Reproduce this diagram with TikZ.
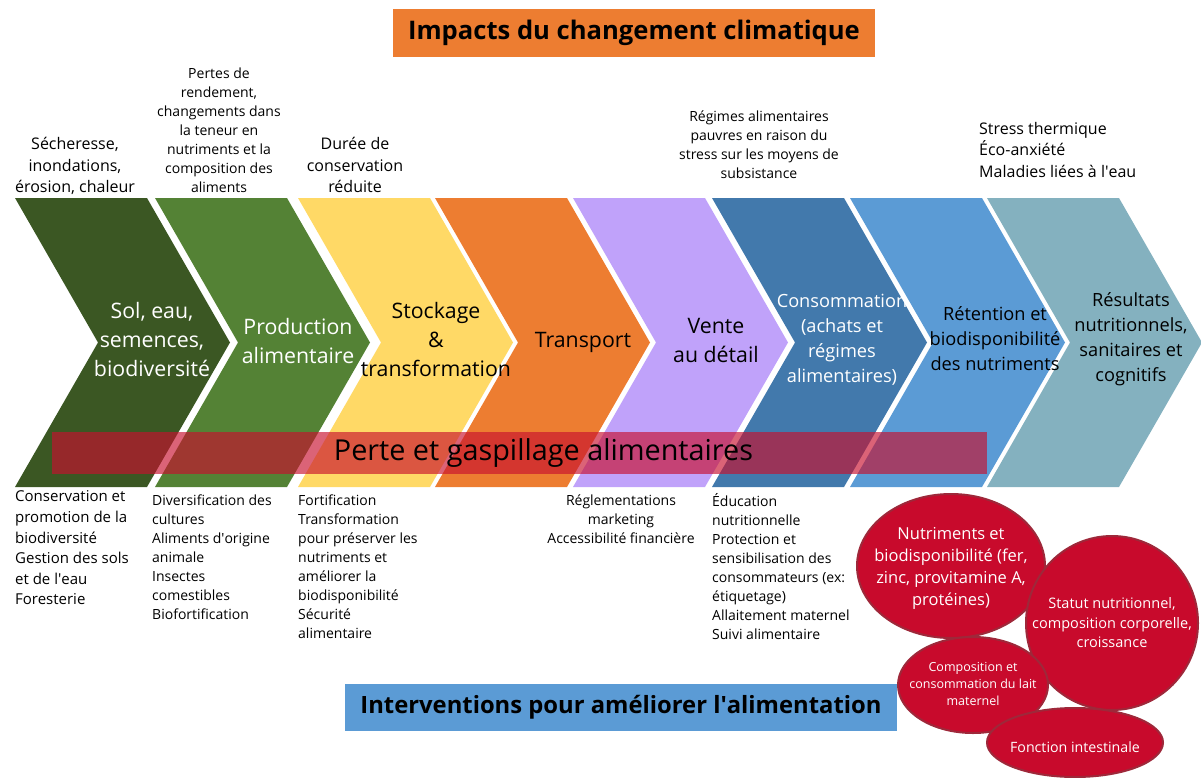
\documentclass[tikz,border=0pt]{standalone}
\usepackage{fontspec}
\setmainfont{Open Sans}
\definecolor{soil}{RGB}{59,87,35}
\definecolor{prod}{RGB}{84,130,53}
\definecolor{stock}{RGB}{255,217,102}
\definecolor{transp}{RGB}{237,125,49}
\definecolor{vente}{RGB}{192,162,250}
\definecolor{conso}{RGB}{66,121,172}
\definecolor{reten}{RGB}{91,155,213}
\definecolor{resul}{RGB}{132,177,191}
\definecolor{loss}{RGB}{200,16,46}
\definecolor{blobred}{RGB}{200,10,44}
\definecolor{blobline}{RGB}{158,40,58}
\newcommand\apos{\textquotesingle{}}

\begin{document}
\begin{tikzpicture}[x=1pt,y=-1pt,
    every node/.style={inner sep=0pt},
    lbl/.style={align=center,font=\fontsize{21.3}{29}\selectfont},
    lbls/.style={align=center,font=\fontsize{18.2}{25}\selectfont},
    note/.style={align=center,font=\fontsize{16}{21.5}\selectfont},
    notes/.style={align=center,font=\fontsize{14}{19}\selectfont},
    todo/.style={align=left,anchor=west,font=\fontsize{14}{19}\selectfont},
    banner/.style={font=\bfseries\fontsize{25.6}{30}\selectfont},
    blob/.style={fill=blobred,draw=blobline,line width=2pt},
    blobtext/.style={text=white,align=center}]
\useasboundingbox (0,0) rectangle (1201,778);

\foreach \x/\c in {15/soil,155/prod,298/stock,435/transp,573/vente,712/conso,850/reten,987/resul}
  \fill[\c] (\x,198) -- ++(132,0) -- ++(83,144.5) -- ++(-83,144.5) -- ++(-132,0) -- ++(83,-144.5) -- cycle;

\node[lbl,text=white] (sol) at (152,340) {Sol, eau,\\semences,\\biodiversité};
\node[lbl,text=white] (production) at (298,341) {Production\\alimentaire};
\node[lbl] (stockage) at (436,340) {Stockage\\\&\\transformation};
\node[lbl] (transport) at (583,342) {Transport};
\node[lbl] (detail) at (716,340) {Vente\\au détail};
\node[lbls,text=white] (consommation) at (842,340) {Consommation\\(achats et\\régimes\\alimentaires)};
\node[lbls] (retention) at (995,339) {Rétention et\\biodisponibilité\\des nutriments};
\node[lbls] (resultats) at (1131,339) {Résultats\\nutritionnels,\\sanitaires et\\cognitifs};

\fill[loss,fill opacity=.65] (52,432) rectangle (987,474);
\node[font=\fontsize{28.8}{34}\selectfont] (perte) at (543.5,453) {Perte et gaspillage alimentaires};

\node[banner,fill=transp,minimum width=482,minimum height=48] (impacts) at (634,33) {Impacts du changement climatique};
\node[banner,fill=reten,minimum width=552,minimum height=47,font=\bfseries\fontsize{23.8}{28}\selectfont] (interventions) at (621,707.5) {Interventions pour améliorer l\apos alimentation};

\node[note] (secheresse) at (75,166) {Sécheresse,\\inondations,\\érosion, chaleur};
\node[notes] (rendement) at (219,130) {Pertes de\\rendement,\\changements dans\\la teneur en\\nutriments et la\\composition des\\aliments};
\node[note] (duree) at (355,165) {Durée de\\conservation\\réduite};
\node[notes] (regimes) at (759,145) {Régimes alimentaires\\pauvres en raison du\\stress sur les moyens de\\subsistance};
\node[note,align=left,anchor=west] (stress) at (979,150) {Stress thermique\\Éco-anxiété\\Maladies liées à l\apos eau};

\node[todo,font=\fontsize{15}{20.6}\selectfont] (conservation) at (15,548) {Conservation et\\promotion de la\\biodiversité\\Gestion des sols\\et de l\apos eau\\Foresterie};
\node[todo] (diversification) at (152,557) {Diversification des\\cultures\\Aliments d\apos origine\\animale\\Insectes\\comestibles\\Biofortification};
\node[todo] (fortification) at (298,567) {Fortification\\Transformation\\pour préserver les\\nutriments et\\améliorer la\\biodisponibilité\\Sécurité\\alimentaire};
\node[notes] (reglementations) at (621,519) {Réglementations\\marketing\\Accessibilité financière};
\node[todo] (education) at (712,567) {Éducation\\nutritionnelle\\Protection et\\sensibilisation des\\consommateurs (ex:\\étiquetage)\\Allaitement maternel\\Suivi alimentaire};

\draw[blob] (951,566) ellipse [x radius=94,y radius=72];
\node[blobtext,font=\fontsize{16.5}{22}\selectfont] (nutriments) at (951,568) {Nutriments et\\biodisponibilité (fer,\\zinc, provitamine A,\\protéines)};
\draw[blob] (1112,623) ellipse [x radius=86,y radius=87];
\node[blobtext,font=\fontsize{14.5}{19.5}\selectfont] (statut) at (1112,623) {Statut nutritionnel,\\composition corporelle,\\croissance};
\draw[blob] (973,685) ellipse [x radius=75,y radius=48];
\node[blobtext,font=\fontsize{12.5}{17}\selectfont] (lait) at (973,684) {Composition et\\consommation du lait\\maternel};
\draw[blob] (1075,742.5) ellipse [x radius=88,y radius=34.5];
\node[blobtext,font=\fontsize{14.2}{19}\selectfont] (intestin) at (1075,747) {Fonction intestinale};
\end{tikzpicture}
\end{document}
